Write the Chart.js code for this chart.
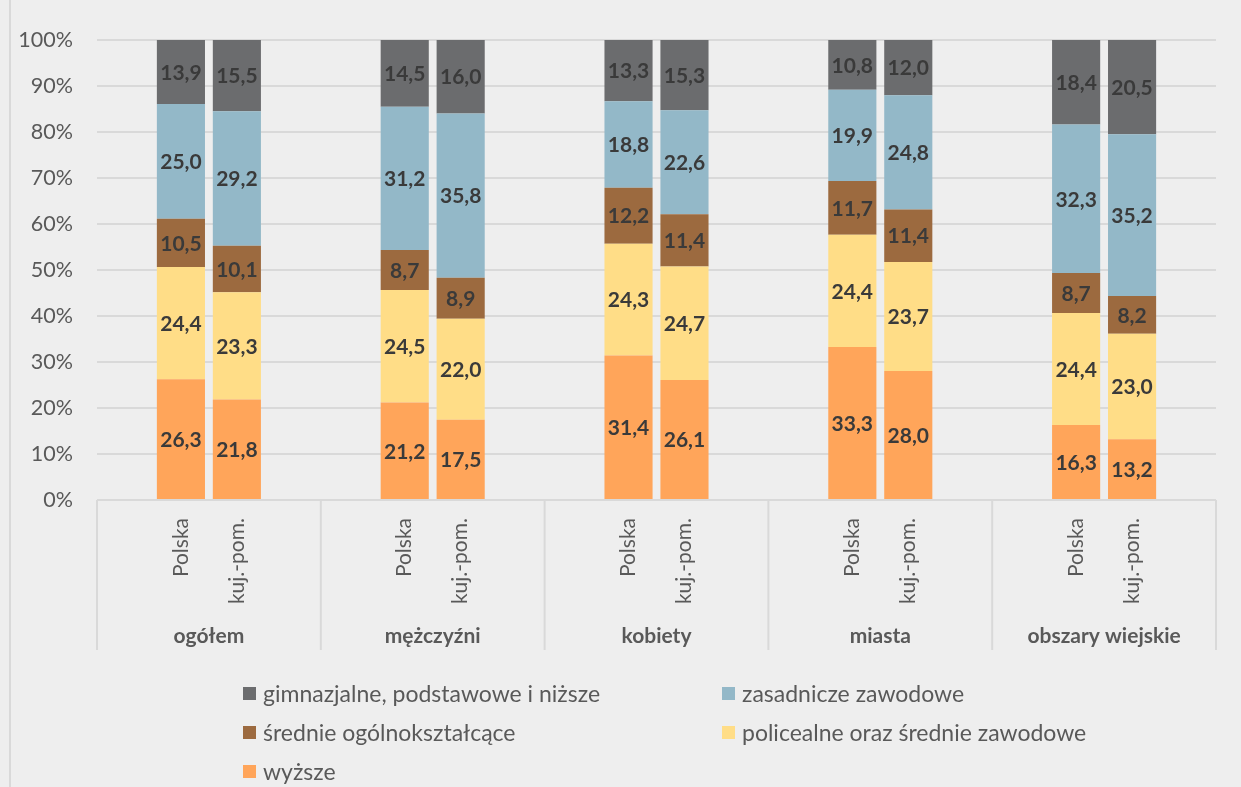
<!DOCTYPE html>
<html><head><meta charset="utf-8">
<script src="https://cdn.jsdelivr.net/npm/chart.js@4/dist/chart.umd.min.js"></script>
<style>
html,body{margin:0;padding:0;background:#eeeeee;}
#wrap{position:relative;width:1241px;height:787px;background:#eeeeee;overflow:hidden;}
#leftline{position:absolute;left:9px;top:0;width:2px;height:787px;background:#d9d9d9;}
#cwrap{position:absolute;left:0;top:0;width:1241px;height:787px;}
#legend{position:absolute;left:0;top:0;width:1241px;height:787px;font-family:Lato,sans-serif;font-size:23px;color:#595959;pointer-events:none}
.item{position:absolute;display:flex;align-items:center;white-space:nowrap;height:30px;}
.sw{width:13px;height:13px;margin-right:7px;flex:none;}
</style></head>
<body>
<div id="wrap">
  <div id="leftline"></div>
  <div id="cwrap"><canvas id="c"></canvas></div>
  <div id="legend"></div>
</div>
<script>
// ---- data ----
const groups = ['ogółem', 'mężczyźni', 'kobiety', 'miasta', 'obszary wiejskie'];
const subLabels = ['Polska', 'kuj.-pom.'];
const seriesNames = ['wyższe', 'policealne oraz średnie zawodowe', 'średnie ogólnokształcące', 'zasadnicze zawodowe', 'gimnazjalne, podstawowe i niższe'];
const seriesColors = ['#ffa55a', '#ffdd87', '#9c6a3f', '#93b8c8', '#6b6c6e'];
// order of bars: ogółem P, ogółem K, mężczyźni P, mężczyźni K, kobiety P, kobiety K, miasta P, miasta K, wiejskie P, wiejskie K
const wyzsze        = [26.3, 21.8, 21.2, 17.5, 31.4, 26.1, 33.3, 28.0, 16.3, 13.2];
const policealne    = [24.4, 23.3, 24.5, 22.0, 24.3, 24.7, 24.4, 23.7, 24.4, 23.0];
const srednieOgolne = [10.5, 10.1,  8.7,  8.9, 12.2, 11.4, 11.7, 11.4,  8.7,  8.2];
const zasadnicze    = [25.0, 29.2, 31.2, 35.8, 18.8, 22.6, 19.9, 24.8, 32.3, 35.2];
const gimnazjalne   = [13.9, 15.5, 14.5, 16.0, 13.3, 15.3, 10.8, 12.0, 18.4, 20.5];
const yTickValues = [0, 10, 20, 30, 40, 50, 60, 70, 80, 90, 100];
const legendOrder = [4, 3, 2, 1, 0];

const series = [wyzsze, policealne, srednieOgolne, zasadnicze, gimnazjalne];
const nBars = wyzsze.length;
const sums = [];
for (let i = 0; i < nBars; i++) { let s = 0; series.forEach(a => s += a[i]); sums.push(s); }

// 4 slots per group: blank, Polska, kuj.-pom., blank
const slotLabels = [];
const slotIndex = []; // slot -> bar index or -1
groups.forEach((g, gi) => {
  slotLabels.push(''); slotIndex.push(-1);
  subLabels.forEach((s, si) => { slotLabels.push(s); slotIndex.push(gi * 2 + si); });
  slotLabels.push(''); slotIndex.push(-1);
});

const datasets = series.map((arr, k) => ({
  label: seriesNames[k],
  backgroundColor: seriesColors[k],
  borderWidth: 0,
  raw: slotIndex.map(i => i < 0 ? null : arr[i]),
  data: slotIndex.map(i => i < 0 ? null : arr[i] * 100 / sums[i]),
  barPercentage: 0.86,
  categoryPercentage: 1.0
}));

const FONT = 'Lato, sans-serif';

const decorPlugin = {
  id: 'decor',
  afterDatasetsDraw(chart) {
    const ctx = chart.ctx;
    ctx.save();
    ctx.font = 'bold 21px ' + FONT;
    ctx.fillStyle = '#3a3a3a';
    ctx.textAlign = 'center';
    ctx.textBaseline = 'middle';
    chart.data.datasets.forEach((ds, di) => {
      const meta = chart.getDatasetMeta(di);
      meta.data.forEach((el, i) => {
        const v = ds.raw[i];
        if (v === null || v === undefined) return;
        const yc = (el.y + el.base) / 2;
        ctx.fillText(v.toFixed(1).replace('.', ','), el.x, yc + 1);
      });
    });
    ctx.restore();
  },
  afterDraw(chart) {
    const ctx = chart.ctx;
    const xs = chart.scales.x;
    const area = chart.chartArea;
    const slotW = (xs.right - xs.left) / slotLabels.length;
    ctx.save();
    ctx.strokeStyle = '#d9d9d9';
    ctx.lineWidth = 2;
    const bottom = xs.bottom;
    for (let g = 0; g <= groups.length; g++) {
      const x = xs.left + g * 4 * slotW;
      ctx.beginPath();
      ctx.moveTo(x, area.bottom);
      ctx.lineTo(x, bottom);
      ctx.stroke();
    }
    ctx.font = 'bold 21px ' + FONT;
    ctx.fillStyle = '#595959';
    ctx.textAlign = 'center';
    ctx.textBaseline = 'middle';
    groups.forEach((g, gi) => {
      const cx = xs.left + (gi * 4 + 2) * slotW;
      ctx.fillText(g, cx, area.bottom + 136);
    });
    ctx.restore();
  }
};

new Chart(document.getElementById('c'), {
  type: 'bar',
  data: { labels: slotLabels, datasets },
  options: {
    responsive: true,
    maintainAspectRatio: false,
    animation: false,
    layout: { padding: { top: 40, right: 25, bottom: 137, left: 0 } },
    plugins: { legend: { display: false }, tooltip: { enabled: false } },
    scales: {
      x: {
        stacked: true,
        grid: { display: false },
        border: { display: false },
        ticks: {
          autoSkip: false, minRotation: 90, maxRotation: 90, padding: 10,
          color: '#595959', font: { family: FONT, size: 21 }
        },
        afterFit(scale) { scale.height = 150; }
      },
      y: {
        stacked: true,
        min: 0, max: 100,
        afterBuildTicks(scale) { scale.ticks = yTickValues.map(v => ({ value: v })); },
        grid: { color: '#d9d9d9', lineWidth: 2, drawTicks: false },
        border: { display: false },
        ticks: {
          padding: 24, color: '#595959', font: { family: FONT, size: 21.5 },
          callback: v => v + '%'
        },
        afterFit(scale) { scale.width = 97; }
      }
    }
  },
  plugins: [decorPlugin]
});

// legend (two columns)
const legend = document.getElementById('legend');
const colX = [243, 722];
const rowY = [693, 732, 771];
legendOrder.forEach((k, n) => {
  const div = document.createElement('div');
  div.className = 'item';
  div.style.left = colX[n % 2] + 'px';
  div.style.top = (rowY[Math.floor(n / 2)] - 15) + 'px';
  const sw = document.createElement('span');
  sw.className = 'sw';
  sw.style.background = seriesColors[k];
  const tx = document.createElement('span');
  tx.textContent = seriesNames[k];
  div.appendChild(sw); div.appendChild(tx);
  legend.appendChild(div);
});
</script>
</body></html>
